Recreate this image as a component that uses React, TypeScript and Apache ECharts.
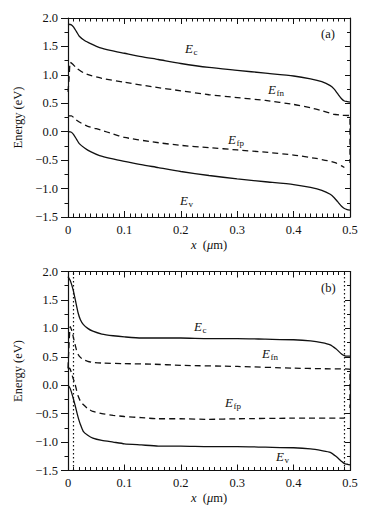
import React, { useEffect, useRef } from "react";
import * as echarts from "echarts";

type P = [number, number];

// Panel (a)
const ecA: P[] = [[0,1.89],[0.006,1.88],[0.01,1.84],[0.015,1.76],[0.02,1.68],[0.03,1.60],[0.04,1.55],[0.056,1.48],[0.075,1.43],[0.1,1.38],[0.13,1.32],[0.16,1.27],[0.2,1.20],[0.25,1.13],[0.3,1.08],[0.35,1.03],[0.4,0.98],[0.43,0.93],[0.45,0.88],[0.465,0.81],[0.472,0.75],[0.478,0.67],[0.485,0.58],[0.49,0.54],[0.495,0.53],[0.5,0.52]];
const efnA: P[] = [[0,0.7],[0.002,0.95],[0.004,1.22],[0.008,1.19],[0.015,1.12],[0.027,1.04],[0.04,0.99],[0.06,0.94],[0.1,0.87],[0.15,0.79],[0.2,0.72],[0.25,0.65],[0.3,0.60],[0.35,0.55],[0.4,0.48],[0.43,0.42],[0.45,0.37],[0.47,0.31],[0.485,0.29],[0.5,0.28],[0.5,-0.55]];
const efpA: P[] = [[0,0.28],[0.006,0.28],[0.013,0.22],[0.02,0.17],[0.034,0.10],[0.058,0.03],[0.08,-0.04],[0.1,-0.10],[0.15,-0.18],[0.2,-0.24],[0.25,-0.28],[0.3,-0.32],[0.35,-0.36],[0.4,-0.41],[0.44,-0.47],[0.46,-0.51],[0.475,-0.55],[0.485,-0.60],[0.49,-0.63]];
const evA: P[] = [[0,0.0],[0.006,-0.01],[0.01,-0.05],[0.015,-0.13],[0.02,-0.21],[0.03,-0.29],[0.04,-0.35],[0.056,-0.42],[0.075,-0.47],[0.1,-0.52],[0.13,-0.58],[0.16,-0.63],[0.2,-0.70],[0.25,-0.77],[0.3,-0.83],[0.35,-0.88],[0.4,-0.93],[0.43,-0.98],[0.45,-1.03],[0.465,-1.10],[0.472,-1.16],[0.478,-1.23],[0.485,-1.31],[0.49,-1.35],[0.495,-1.37],[0.5,-1.38]];

// Panel (b)
const ecB: P[] = [[0,1.91],[0.004,1.84],[0.009,1.68],[0.013,1.50],[0.018,1.27],[0.022,1.15],[0.027,1.07],[0.035,1.0],[0.044,0.95],[0.06,0.90],[0.08,0.87],[0.1,0.85],[0.13,0.83],[0.2,0.83],[0.25,0.82],[0.3,0.82],[0.35,0.81],[0.4,0.80],[0.43,0.78],[0.45,0.75],[0.465,0.71],[0.475,0.64],[0.485,0.55],[0.49,0.52],[0.495,0.51],[0.5,0.51]];
const efnB: P[] = [[0,0.3],[0.002,0.75],[0.004,1.03],[0.007,0.95],[0.01,0.82],[0.012,0.74],[0.015,0.62],[0.018,0.54],[0.022,0.49],[0.027,0.45],[0.035,0.42],[0.044,0.40],[0.06,0.39],[0.1,0.38],[0.15,0.37],[0.2,0.35],[0.3,0.33],[0.4,0.30],[0.45,0.29],[0.5,0.28],[0.5,-0.4]];
const efpB: P[] = [[0,0.28],[0.003,0.30],[0.006,0.22],[0.009,0.12],[0.012,0.04],[0.015,-0.08],[0.018,-0.19],[0.022,-0.28],[0.027,-0.34],[0.035,-0.41],[0.044,-0.46],[0.06,-0.50],[0.08,-0.53],[0.1,-0.55],[0.13,-0.57],[0.16,-0.59],[0.2,-0.59],[0.25,-0.60],[0.3,-0.59],[0.4,-0.58],[0.49,-0.58]];
const evB: P[] = [[0,0.0],[0.004,-0.06],[0.009,-0.22],[0.013,-0.37],[0.016,-0.49],[0.019,-0.60],[0.022,-0.69],[0.027,-0.81],[0.035,-0.88],[0.044,-0.93],[0.06,-0.97],[0.08,-1.00],[0.1,-1.03],[0.13,-1.05],[0.16,-1.07],[0.2,-1.07],[0.25,-1.08],[0.3,-1.08],[0.35,-1.09],[0.4,-1.10],[0.43,-1.12],[0.45,-1.15],[0.465,-1.18],[0.475,-1.25],[0.485,-1.34],[0.49,-1.38],[0.495,-1.39],[0.5,-1.40]];

const dottedLinesB = [0.009, 0.487];

const X_MIN = 0, X_MAX = 0.5, X_INT = 0.1;
const Y_MIN = -1.5, Y_MAX = 2.0, Y_INT = 0.5;

const FONT = "Liberation Serif";
const INK = "#111";

function subLabel(x: number, y: number, main: string, sub: string) {
  return {
    type: "group",
    x,
    y,
    children: [
      { type: "text", x: 0, y: 0, style: { text: main, fontFamily: FONT, fontSize: 13, fontStyle: "italic", fill: INK, verticalAlign: "middle" } },
      { type: "text", x: 8.5, y: 4, style: { text: sub, fontFamily: FONT, fontSize: 9, fill: INK, verticalAlign: "middle" } },
    ],
  };
}

export default function App() {
  const ref = useRef<HTMLDivElement>(null);
  useEffect(() => {
    if (!ref.current) return;
    const chart = echarts.init(ref.current, null, { renderer: "svg" });
    const grids = [
      { left: 68, top: 18, width: 282, height: 199 },
      { left: 68, top: 271.5, width: 282, height: 199 },
    ];
    const axisLine = { show: true, onZero: false, lineStyle: { color: INK, width: 1.2 } };
    const xAxes: any[] = [];
    const yAxes: any[] = [];
    [0, 1].forEach((g) => {
      const xBase = {
        type: "value", gridIndex: g, min: X_MIN, max: X_MAX, interval: X_INT,
        axisLine, splitLine: { show: false },
        axisTick: { show: true, inside: true, length: 6, lineStyle: { color: INK, width: 1 } },
        minorTick: { show: true, splitNumber: 10, length: 3.5, lineStyle: { color: INK, width: 1 } },
      };
      xAxes.push({
        ...xBase, position: "bottom",
        axisLabel: { show: true, margin: 6, color: INK, fontSize: 12.5, fontFamily: FONT,
          formatter: (v: number) => (v === 0 ? "0" : v.toFixed(1)) },
        name: "{i|x}  ({i|\u03bc}m)", nameLocation: "middle", nameGap: 21,
        nameTextStyle: { color: INK, fontSize: 12.5, fontFamily: FONT, verticalAlign: "top",
          rich: { i: { fontStyle: "italic", fontSize: 12.5, fontFamily: FONT, color: INK } } },
      });
      xAxes.push({ ...xBase, position: "top", axisLabel: { show: false } });
      const yBase = {
        type: "value", gridIndex: g, min: Y_MIN, max: Y_MAX, interval: Y_INT,
        axisLine, splitLine: { show: false },
      };
      yAxes.push({
        ...yBase, position: "left",
        axisTick: { show: true, inside: false, length: 7, lineStyle: { color: INK, width: 1 } },
        minorTick: { show: true, splitNumber: 2, length: 3.5, lineStyle: { color: INK, width: 1 } },
        axisLabel: { show: true, margin: 10, color: INK, fontSize: 12.5, fontFamily: FONT,
          formatter: (v: number) => v.toFixed(1).replace("-", "\u2212") },
        name: "Energy (eV)", nameLocation: "middle", nameGap: 40,
        nameTextStyle: { color: INK, fontSize: 12.5, fontFamily: FONT },
      });
      yAxes.push({
        ...yBase, position: "right",
        axisTick: { show: true, inside: true, length: 5, lineStyle: { color: INK, width: 1 } },
        minorTick: { show: true, splitNumber: 2, length: 3, lineStyle: { color: INK, width: 1 } },
        axisLabel: { show: false },
      });
    });

    const mk = (data: P[], g: number, dashed: boolean, extra: any = {}) => ({
      type: "line", data, xAxisIndex: g * 2, yAxisIndex: g * 2, showSymbol: false, symbol: "none",
      smooth: 0.2, silent: true,
      lineStyle: { color: INK, width: 1.3, type: dashed ? [6, 4] : "solid" },
      ...extra,
    });

    const option: any = {
      animation: false,
      backgroundColor: "#fff",
      textStyle: { fontFamily: FONT },
      grid: grids,
      xAxis: xAxes,
      yAxis: yAxes,
      series: [
        mk(ecA, 0, false), mk(efnA, 0, true), mk(efpA, 0, true), mk(evA, 0, false),
        mk(ecB, 1, false, {
          markLine: {
            silent: true, symbol: "none", label: { show: false },
            lineStyle: { color: INK, width: 1.2, type: [1.5, 2.5] },
            data: dottedLinesB.map((x) => ({ xAxis: x })),
          },
        }),
        mk(efnB, 1, true), mk(efpB, 1, true), mk(evB, 1, false),
      ],
      graphic: [
        { type: "text", x: 321, y: 27, style: { text: "(a)", fontFamily: FONT, fontSize: 12.5, fill: INK } },
        { type: "text", x: 321, y: 281, style: { text: "(b)", fontFamily: FONT, fontSize: 12.5, fill: INK } },
        subLabel(185, 48, "E", "c"),
        subLabel(268, 89, "E", "fn"),
        subLabel(228, 139, "E", "fp"),
        subLabel(180, 200, "E", "v"),
        subLabel(194, 326, "E", "c"),
        subLabel(262, 353, "E", "fn"),
        subLabel(225, 402, "E", "fp"),
        subLabel(276, 456, "E", "v"),
      ],
    };
    chart.setOption(option);
    return () => chart.dispose();
  }, []);
  return <div ref={ref} style={{ position: "absolute", left: 0, top: 0, width: 373, height: 518 }} />;
}
